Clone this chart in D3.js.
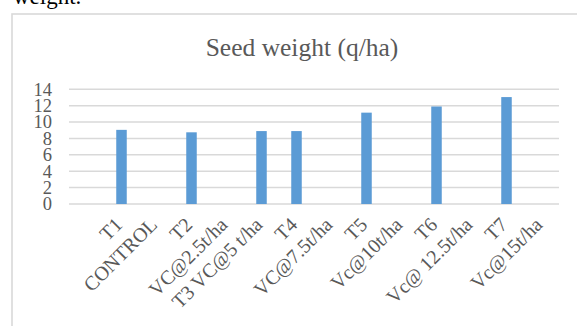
<!DOCTYPE html>
<html>
<head>
<meta charset="utf-8">
<script src="https://cdn.jsdelivr.net/npm/d3@7"></script>
<style>
  html, body { margin: 0; padding: 0; background: #fff; }
  svg { display: block; }
</style>
</head>
<body>
<svg id="chart" width="577" height="326"></svg>
<script>
const categories = ["", "T1", "CONTROL", "T2", "VC@2.5t/ha", "T3 VC@5 t/ha", "T4", "VC@7.5t/ha", "T5", "Vc@10t/ha", "T6", "Vc@ 12.5t/ha", "T7", "Vc@15t/ha"];
const seedWeight = [null, 9.05, null, 8.75, null, 8.9, 8.9, null, 11.15, null, 11.9, null, 13.05, null];
const yTicks = [0, 2, 4, 6, 8, 10, 12, 14];
const chartTitle = "Seed weight (q/ha)";

const svg = d3.select("#chart");
const serif = "'Liberation Serif', 'Times New Roman', serif";

// text above the chart (cut off at the top)
svg.append("text").attr("x", 13).attr("y", 4)
  .attr("font-family", serif).attr("font-size", 23).attr("fill", "#000")
  .text("weight.");

// chart area border
svg.append("rect").attr("x", 12).attr("y", 14).attr("width", 600).attr("height", 340)
  .attr("fill", "#fff").attr("stroke", "#d9d9d9").attr("stroke-width", 1.6);

// title
svg.append("text").attr("x", 302).attr("y", 56).attr("text-anchor", "middle")
  .attr("font-family", serif).attr("font-size", 25.5).attr("fill", "#595959")
  .text(chartTitle);

const x = d3.scaleBand().domain(d3.range(categories.length)).range([69, 559]).paddingInner(0.7).paddingOuter(0.35);
const y = d3.scaleLinear().domain([0, 14]).range([204, 89.3]);

// gridlines
svg.append("g").selectAll("line").data(yTicks).join("line")
  .attr("x1", 69).attr("x2", 559)
  .attr("y1", d => y(d)).attr("y2", d => y(d))
  .attr("stroke", "#d9d9d9").attr("stroke-width", 1.5);

// y labels
svg.append("g").selectAll("text").data(yTicks).join("text")
  .attr("x", 52).attr("y", d => y(d)).attr("dy", "0.34em")
  .attr("text-anchor", "end")
  .attr("font-family", serif).attr("font-size", 18.5).attr("fill", "#595959")
  .text(d => d);

// bars
svg.append("g").selectAll("rect")
  .data(seedWeight.map((v, i) => ({ i, v })).filter(d => d.v != null))
  .join("rect")
  .attr("x", d => x(d.i)).attr("width", x.bandwidth())
  .attr("y", d => y(d.v)).attr("height", d => y(0) - y(d.v))
  .attr("fill", "#5b9bd5");

// x labels
svg.append("g").selectAll("text").data(categories).join("text")
  .attr("transform", (d, i) => `translate(${x(i) + x.bandwidth() / 2 + 2},${226}) rotate(-45)`)
  .attr("text-anchor", "end")
  .attr("font-family", serif).attr("font-size", 20).attr("fill", "#595959")
  .text(d => d);
</script>
</body>
</html>
